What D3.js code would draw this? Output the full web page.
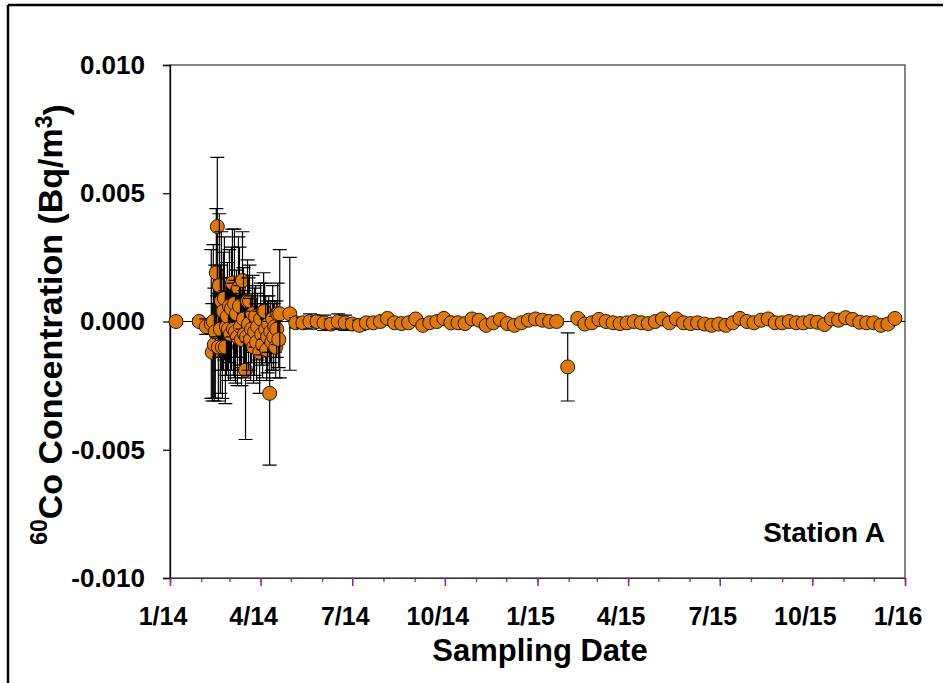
<!DOCTYPE html>
<html>
<head>
<meta charset="utf-8">
<script src="https://cdn.jsdelivr.net/npm/d3@7"></script>
<style>
  body { margin: 0; background: #fff; }
  svg text { font-family: "Liberation Sans", Arial, sans-serif; font-weight: bold; fill: #000; }
</style>
</head>
<body>
<div id="chart"></div>
<script>
// Station A, 60Co concentration (Bq/m3)
// early samples (daily around Feb-Apr 2014)
const earlyDates = ["2014-01-07","2014-01-30","2014-02-06","2014-02-11","2014-02-12","2014-02-13","2014-02-14","2014-02-15",
  "2014-02-16","2014-02-17","2014-02-18","2014-02-19","2014-02-20","2014-02-21","2014-02-22","2014-02-23","2014-02-24",
  "2014-02-25","2014-02-26","2014-02-27","2014-02-28","2014-03-01","2014-03-02","2014-03-03","2014-03-04","2014-03-05",
  "2014-03-06","2014-03-07","2014-03-08","2014-03-09","2014-03-10","2014-03-11","2014-03-12","2014-03-13","2014-03-14",
  "2014-03-15","2014-03-16","2014-03-17","2014-03-18","2014-03-19","2014-03-20","2014-03-21","2014-03-22","2014-03-23",
  "2014-03-24","2014-03-25","2014-03-26","2014-03-27","2014-03-28","2014-03-29","2014-03-31","2014-04-01","2014-04-02",
  "2014-04-03","2014-04-04","2014-04-05","2014-04-06","2014-04-07","2014-04-08","2014-04-09","2014-04-10","2014-04-11",
  "2014-04-12","2014-04-13","2014-04-14","2014-04-15","2014-04-16","2014-04-17","2014-04-18","2014-04-19","2014-04-20",
  "2014-04-30"];
const earlyValues = [0.0000,0.0000,-0.0002,-0.0001,-0.0012,0.0000,-0.0009,-0.0004,
  0.0019,0.0037,-0.0010,0.0014,-0.0003,0.0008,-0.0010,0.0004,0.0009,
  -0.0010,-0.0002,0.0002,-0.0003,0.0006,-0.0005,0.0005,0.0015,-0.0003,
  0.0007,-0.0004,0.0003,-0.0006,0.0013,0.0006,-0.0002,-0.0007,0.0016,
  0.0001,-0.0005,-0.0019,-0.0006,0.0008,-0.0001,0.0008,-0.0007,-0.0003,
  0.0003,-0.0010,-0.0004,0.0002,-0.0008,-0.0002,-0.0012,0.0001,-0.0005,
  -0.0009,0.0004,0.0004,-0.0003,-0.0011,-0.0006,-0.0001,-0.0028,-0.0004,
  -0.0008,0.0001,-0.0006,-0.0002,-0.0010,-0.0003,0.0003,-0.0007,0.0003,
  0.0003];
const earlyErrors = [0.0001,0.0001,0.0003,0.0029,0.0019,0.0030,0.0022,0.0026,
  0.0025,0.0027,0.0021,0.0028,0.0025,0.0027,0.0020,0.0023,0.0024,
  0.0022,0.0019,0.0021,0.0020,0.0022,0.0018,0.0024,0.0021,0.0018,
  0.0029,0.0020,0.0017,0.0019,0.0020,0.0023,0.0016,0.0018,0.0019,
  0.0020,0.0017,0.0027,0.0015,0.0016,0.0018,0.0014,0.0016,0.0013,
  0.0015,0.0014,0.0017,0.0012,0.0015,0.0013,0.0016,0.0014,0.0012,
  0.0013,0.0015,0.0011,0.0013,0.0012,0.0014,0.0011,0.0028,0.0012,
  0.0011,0.0013,0.0013,0.0010,0.0012,0.0011,0.0012,0.0011,0.0025,
  0.0022];

// weekly samples, May 2014 - Dec 2015
const weeklyDates = ["2014-05-06","2014-05-13","2014-05-20","2014-05-27","2014-06-03","2014-06-10","2014-06-17","2014-06-24",
  "2014-07-01","2014-07-08","2014-07-15","2014-07-22","2014-07-29","2014-08-05","2014-08-12","2014-08-19","2014-08-26",
  "2014-09-02","2014-09-09","2014-09-16","2014-09-23","2014-09-30","2014-10-07","2014-10-14","2014-10-21","2014-10-28",
  "2014-11-04","2014-11-11","2014-11-18","2014-11-25","2014-12-02","2014-12-09","2014-12-16","2014-12-23","2014-12-30",
  "2015-01-06","2015-01-13","2015-01-20","2015-01-31","2015-02-10","2015-02-17","2015-02-24","2015-03-03","2015-03-10",
  "2015-03-17","2015-03-24","2015-03-31","2015-04-07","2015-04-14","2015-04-21","2015-04-28","2015-05-05","2015-05-12",
  "2015-05-19","2015-05-26","2015-06-02","2015-06-09","2015-06-16","2015-06-23","2015-06-30","2015-07-07","2015-07-14",
  "2015-07-21","2015-07-28","2015-08-04","2015-08-11","2015-08-18","2015-08-25","2015-09-01","2015-09-08","2015-09-15",
  "2015-09-22","2015-09-29","2015-10-06","2015-10-13","2015-10-20","2015-10-27","2015-11-03","2015-11-10","2015-11-17",
  "2015-11-24","2015-12-01","2015-12-08","2015-12-15","2015-12-22"];
const weeklyValues = [-0.00005,-0.00005,0.00000,0.00000,-0.00005,-0.00010,0.00000,-0.00005,
  -0.00010,-0.00015,-0.00005,-0.00005,0.00000,0.00012,-0.00005,-0.00008,-0.00005,
  0.00010,-0.00015,-0.00005,0.00000,0.00012,-0.00005,-0.00005,-0.00008,0.00010,
  0.00005,-0.00015,-0.00005,0.00008,-0.00008,-0.00015,-0.00005,0.00005,0.00010,
  0.00005,0.00000,0.00000,-0.00177,0.00012,-0.00010,-0.00005,0.00008,0.00000,
  -0.00005,-0.00008,-0.00005,0.00000,-0.00005,-0.00008,0.00000,0.00010,-0.00005,
  0.00010,-0.00005,-0.00008,-0.00005,-0.00010,-0.00015,-0.00010,-0.00015,-0.00005,
  0.00012,0.00000,-0.00005,0.00005,0.00010,-0.00005,-0.00005,0.00000,-0.00005,
  -0.00005,0.00000,-0.00003,-0.00012,0.00010,0.00005,0.00015,0.00008,-0.00003,
  -0.00005,-0.00005,-0.00015,-0.00010,0.00012];
const weeklyErrors = [0.0002,0.0002,0.0003,0.0002,0.0003,0.0002,0.0003,0.0003,
  0.0002,0.0002,0.0001,0.0001,0.0001,0.0001,0.0001,0.0001,0.0001,
  0.0001,0.0001,0.0001,0.0001,0.0001,0.0001,0.0001,0.0001,0.0001,
  0.0001,0.0001,0.0001,0.0001,0.0001,0.0001,0.0001,0.0001,0.0001,
  0.0001,0.0001,0.0001,0.00133,0.0001,0.0001,0.0001,0.0001,0.0001,
  0.0001,0.0001,0.0001,0.0001,0.0001,0.0001,0.0001,0.0001,0.0001,
  0.0001,0.0001,0.0001,0.0001,0.0001,0.0001,0.0001,0.0001,0.0001,
  0.0001,0.0001,0.0001,0.0001,0.0001,0.0001,0.0001,0.0001,0.0001,
  0.0001,0.0001,0.0001,0.0001,0.0001,0.0001,0.0001,0.0001,0.0001,
  0.0001,0.0001,0.0001,0.0001,0.0001];

const yTicks = [-0.010, -0.005, 0.000, 0.005, 0.010];
const xTickDates = ["2014-01-01","2014-04-01","2014-07-01","2014-10-01","2015-01-01","2015-04-01","2015-07-01","2015-10-01","2016-01-01"];

const width = 949, height = 683;
const plotLeft = 170, plotTop = 65, plotRight = 905, plotBottom = 578;

const parse = d3.timeParse("%Y-%m-%d");

const points = [];
earlyDates.forEach((d, i) => points.push({ date: parse(d), value: earlyValues[i], err: earlyErrors[i] }));
weeklyDates.forEach((d, i) => points.push({ date: parse(d), value: weeklyValues[i], err: weeklyErrors[i] }));
points.sort((a, b) => a.date - b.date);

const svg = d3.select("#chart").append("svg")
  .attr("width", width)
  .attr("height", height);

// outer frame (only top and left edges are inside the picture)
svg.append("line").attr("x1", 8).attr("y1", 5).attr("x2", 943).attr("y2", 5)
  .attr("stroke", "#000").attr("stroke-width", 2.5);
svg.append("line").attr("x1", 8).attr("y1", 5).attr("x2", 8).attr("y2", height)
  .attr("stroke", "#000").attr("stroke-width", 2.5);

const x = d3.scaleTime()
  .domain([parse("2014-01-01"), parse("2016-01-01")])
  .range([plotLeft, plotRight]);

const y = d3.scaleLinear()
  .domain([-0.010, 0.010])
  .range([plotBottom, plotTop]);

// plot box
svg.append("rect")
  .attr("x", plotLeft).attr("y", plotTop)
  .attr("width", plotRight - plotLeft).attr("height", plotBottom - plotTop)
  .attr("fill", "none").attr("stroke", "#333").attr("stroke-width", 1.2);

// zero line
svg.append("line")
  .attr("x1", plotLeft).attr("x2", plotRight)
  .attr("y1", y(0)).attr("y2", y(0))
  .attr("stroke", "#000").attr("stroke-width", 1.2);

// y axis
const yAxis = svg.append("g")
  .attr("transform", `translate(${plotLeft},0)`)
  .call(d3.axisLeft(y).tickValues(yTicks).tickSize(7).tickPadding(18)
    .tickFormat(d => d.toFixed(3)));
yAxis.select(".domain").attr("stroke", "#000").attr("stroke-width", 1.3);
yAxis.selectAll(".tick line").attr("stroke", "#000").attr("stroke-width", 1.2);
yAxis.selectAll("text").style("font-size", "26px").attr("font-family", null);

// x axis: monthly minor ticks, quarterly labels (purple ticks)
const tickColor = "#9b1f9b";
const xMinor = svg.append("g")
  .attr("transform", `translate(0,${plotBottom})`)
  .call(d3.axisBottom(x).ticks(d3.timeMonth.every(1)).tickSize(4).tickFormat(""));
xMinor.select(".domain").remove();
xMinor.selectAll(".tick line").attr("stroke", tickColor).attr("stroke-width", 1.3);

const xAxis = svg.append("g")
  .attr("transform", `translate(0,${plotBottom})`)
  .call(d3.axisBottom(x).tickValues(xTickDates.map(parse)).tickSize(8).tickPadding(21)
    .tickFormat(d => `${d.getMonth() + 1}/${String(d.getFullYear()).slice(2)}`));
xAxis.select(".domain").attr("stroke", "#333").attr("stroke-width", 1.2);
xAxis.selectAll(".tick line").attr("stroke", tickColor).attr("stroke-width", 1.5);
xAxis.selectAll("text").style("font-size", "25px").attr("font-family", null).attr("dx", -7.5);

// points with error bars, drawn one after another
const capHalf = 7;
const marks = svg.append("g").selectAll("g")
  .data(points)
  .enter()
  .append("g");

marks.append("path")
  .attr("d", d => {
    const cx = x(d.date), y1 = y(d.value + d.err), y2 = y(d.value - d.err);
    return `M${cx},${y1}V${y2}M${cx - capHalf},${y1}H${cx + capHalf}M${cx - capHalf},${y2}H${cx + capHalf}`;
  })
  .attr("fill", "none")
  .attr("stroke", "#000")
  .attr("stroke-width", 1.2);

marks.append("circle")
  .attr("cx", d => x(d.date))
  .attr("cy", d => y(d.value))
  .attr("r", 7)
  .attr("fill", "#DF7A0A")
  .attr("stroke", "#2a1500")
  .attr("stroke-width", 1);

// station label
svg.append("text")
  .attr("x", 885).attr("y", 542)
  .attr("text-anchor", "end")
  .style("font-size", "28px")
  .text("Station A");

// axis titles
svg.append("text")
  .attr("x", 540).attr("y", 661)
  .attr("text-anchor", "middle")
  .style("font-size", "31px")
  .text("Sampling Date");

const yTitle = svg.append("text")
  .attr("transform", `translate(57,${(plotTop + plotBottom) / 2 + 3}) rotate(-90)`)
  .attr("text-anchor", "middle")
  .style("font-size", "34px");
yTitle.append("tspan").attr("dy", "-0.45em").style("font-size", "23px").text("60");
yTitle.append("tspan").attr("dy", "0.45em").text("Co Concentration (Bq/m");
yTitle.append("tspan").attr("dy", "-0.45em").style("font-size", "23px").text("3");
yTitle.append("tspan").attr("dy", "0.45em").text(")");
</script>
</body>
</html>
